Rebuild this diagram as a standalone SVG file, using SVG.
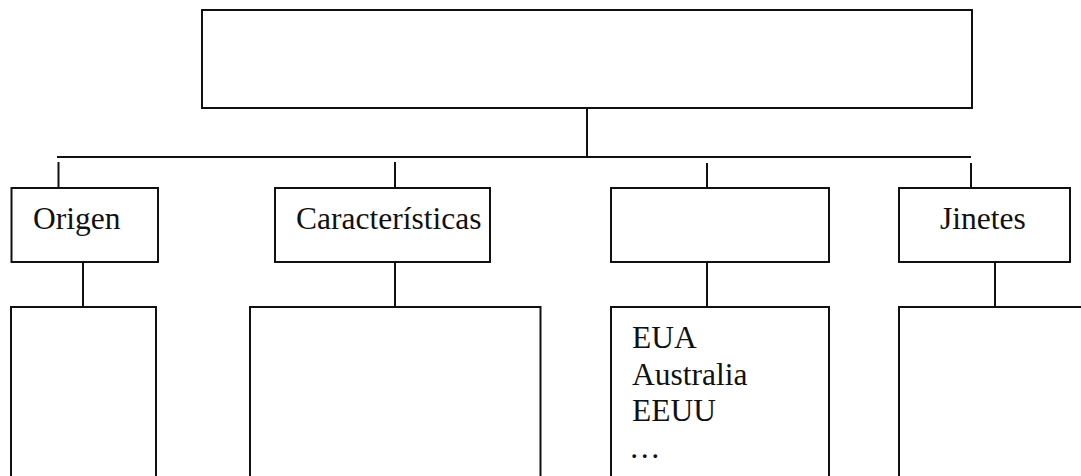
<svg xmlns="http://www.w3.org/2000/svg" width="1081" height="476" viewBox="0 0 1081 476">
<style>
.box{fill:#fff;stroke:#111;stroke-width:2}
.ln{stroke:#111;stroke-width:2;fill:none}
.t{font-family:"Liberation Serif","Times New Roman",serif;font-size:31.5px;fill:#111}
</style>
<rect width="1081" height="476" fill="#fff"/>
<g id="connectors">
<line class="ln" x1="587" y1="108" x2="587" y2="157"/>
<line class="ln" x1="57" y1="157" x2="971" y2="157"/>
<line class="ln" x1="58.5" y1="162" x2="58.5" y2="188"/>
<line class="ln" x1="395" y1="162" x2="395" y2="188"/>
<line class="ln" x1="707" y1="163" x2="707" y2="188"/>
<line class="ln" x1="971" y1="163" x2="971" y2="188"/>
<line class="ln" x1="83" y1="259" x2="83" y2="307"/>
<line class="ln" x1="395" y1="259" x2="395" y2="307"/>
<line class="ln" x1="707" y1="259" x2="707" y2="307"/>
<line class="ln" x1="995" y1="259" x2="995" y2="307"/>
</g>
<g id="root"><rect class="box" x="202" y="10" width="770" height="98"/></g>
<g id="origen"><rect class="box" x="11.5" y="188" width="146.5" height="74"/><text class="t" x="33" y="229">Origen</text></g>
<g id="caracteristicas"><rect class="box" x="275" y="188" width="215" height="74"/><text class="t" x="296" y="229">Características</text></g>
<g id="blank"><rect class="box" x="611" y="188" width="218" height="74"/></g>
<g id="jinetes"><rect class="box" x="899" y="188" width="171" height="74"/><text class="t" x="940" y="229">Jinetes</text></g>
<g id="origen-detail"><rect class="box" x="11" y="307" width="145" height="180"/></g>
<g id="caracteristicas-detail"><rect class="box" x="250" y="307" width="290.5" height="180"/></g>
<g id="paises"><rect class="box" x="611" y="307" width="218" height="180"/>
<text class="t" x="632" y="348">EUA</text>
<text class="t" x="632" y="384.5">Australia</text>
<text class="t" x="632" y="421">EEUU</text>
<text class="t" x="629" y="458">…</text>
</g>
<g id="jinetes-detail"><rect class="box" x="899" y="307" width="190" height="180"/></g>
</svg>
